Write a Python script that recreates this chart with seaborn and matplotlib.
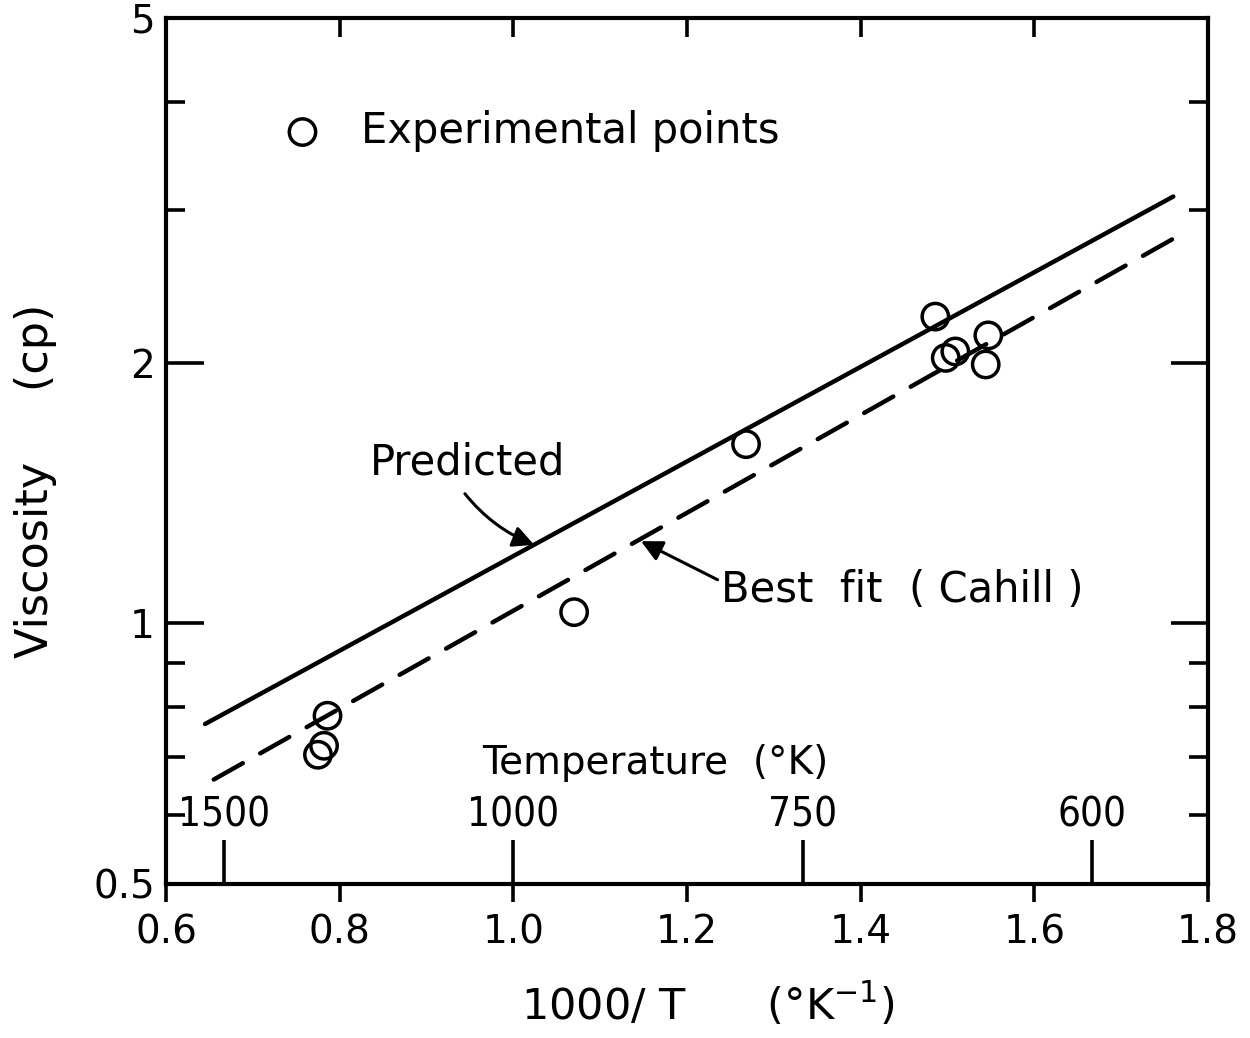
import numpy as np
import matplotlib
matplotlib.use("Agg")
import matplotlib.pyplot as plt
import seaborn as sns
import pandas as pd

# ---------------- data ----------------
exp_x = [1.486, 1.547, 1.498, 1.509, 1.544, 1.268, 1.070, 0.786, 0.782, 0.775]
exp_y = [2.26, 2.15, 2.025, 2.06, 1.99, 1.61, 1.03, 0.782, 0.722, 0.705]

pred_x = [0.645, 1.760]
pred_y = [0.765, 3.11]

fit_x = [0.655, 1.760]
fit_y = [0.660, 2.78]

x_ticks = [0.6, 0.8, 1.0, 1.2, 1.4, 1.6, 1.8]
x_ticklabels = ["0.6", "0.8", "1.0", "1.2", "1.4", "1.6", "1.8"]
y_major = [0.5, 1, 2, 5]
y_major_labels = ["0.5", "1", "2", "5"]
y_minor = [0.6, 0.7, 0.8, 0.9, 3, 4]
temp_ticks = [1500, 1000, 750, 600]
temp_labels = ["1500", "1000", "750", "600"]

df_exp = pd.DataFrame({"x": exp_x, "y": exp_y})
df_pred = pd.DataFrame({"x": pred_x, "y": pred_y})
df_fit = pd.DataFrame({"x": fit_x, "y": fit_y})

# ---------------- style ----------------
sns.set_theme(style="ticks")
plt.rcParams["font.family"] = ["DejaVu Sans"]
plt.rcParams["mathtext.fontset"] = "dejavusans"
for k in ["text.color", "axes.labelcolor", "xtick.color", "ytick.color",
          "axes.edgecolor"]:
    plt.rcParams[k] = "black"

fig = plt.figure(figsize=(12.5, 10.38), dpi=100)
ax = fig.add_axes([0.1328, 0.1484, 0.8336, 0.8343])

sns.lineplot(data=df_pred, x="x", y="y", ax=ax, color="black", lw=3.2,
             estimator=None, solid_capstyle="round")
sns.lineplot(data=df_fit, x="x", y="y", ax=ax, color="black", lw=3.2,
             estimator=None, linestyle=(0, (7.5, 4.5)), dash_capstyle="round")
sns.scatterplot(data=df_exp, x="x", y="y", ax=ax, s=360, facecolors="none",
                edgecolor="black", linewidth=2.5, zorder=5,
                label="Experimental points")

ax.set_yscale("log")
ax.set_xlim(0.6, 1.8)
ax.set_ylim(0.5, 5)

ax.set_xticks(x_ticks)
ax.set_xticklabels(x_ticklabels)
ax.set_yticks(y_major)
ax.set_yticklabels(y_major_labels)
ax.set_yticks(y_minor, minor=True)
ax.yaxis.set_minor_formatter(matplotlib.ticker.NullFormatter())
ax.xaxis.set_minor_locator(matplotlib.ticker.NullLocator())

ax.tick_params(axis="x", which="major", direction="out", length=13, width=2.6,
               labelsize=28, pad=8, top=False, bottom=True)
ax.tick_params(axis="y", which="major", direction="in", length=27, width=2.6,
               labelsize=28, pad=8, left=True, right=True)
ax.tick_params(axis="y", which="minor", direction="in", length=14, width=2.6,
               left=True, right=True)

# top ticks pointing inward
top = ax.secondary_xaxis("top")
top.set_xticks(x_ticks[1:-1])
top.tick_params(axis="x", direction="in", length=14, width=2.6,
                labeltop=False)
top.spines["top"].set_visible(False)

# temperature scale inside the bottom of the plot
def inv(v):
    v = np.asarray(v, dtype=float)
    with np.errstate(divide="ignore", invalid="ignore"):
        return 1000.0 / v

temp = ax.secondary_xaxis(0.0, functions=(inv, inv))
temp.set_xticks(temp_ticks)
temp.set_xticklabels(temp_labels)
temp.xaxis.set_minor_locator(matplotlib.ticker.NullLocator())
temp.tick_params(axis="x", which="both", top=True, labeltop=True, bottom=False,
                 labelbottom=False, direction="out", length=32, width=2.6,
                 pad=3, labelsize=29)
for lab in temp.get_xticklabels():
    lab.set_fontstretch("condensed")
for s in temp.spines.values():
    s.set_visible(False)

ax.text(0.4697, 0.1397, "Temperature  (°K)", transform=ax.transAxes,
        ha="center", va="center", fontsize=28)

# labels
ax.set_xlabel("1000/ T      (°K$^{-1}$)", fontsize=31)
ax.xaxis.set_label_coords(0.52, -0.112)
ax.set_ylabel("Viscosity     (cp)", fontsize=32)
ax.yaxis.set_label_coords(-0.105, 0.465)

# legend
ax.legend(frameon=False, loc="center left", bbox_to_anchor=(0.077, 0.8695),
          borderaxespad=0, fontsize=30, handlelength=1.9, handletextpad=0.45,
          scatterpoints=1)

# annotations
ax.annotate("Predicted", xy=(1.024, 1.232), xytext=(0.947, 1.532),
            ha="center", va="center", fontsize=30,
            arrowprops=dict(arrowstyle="-|>", color="black", lw=2.2,
                            mutation_scale=32, relpos=(0.45, 0.0),
                            shrinkA=6, shrinkB=0,
                            connectionstyle="arc3,rad=0.15"))
ax.annotate("Best  fit  ( Cahill )", xy=(1.147, 1.244), xytext=(1.239, 1.093),
            ha="left", va="center", fontsize=30,
            arrowprops=dict(arrowstyle="-|>", color="black", lw=2.2,
                            mutation_scale=32, relpos=(0.0, 0.7),
                            shrinkA=0, shrinkB=0,
                            connectionstyle="arc3,rad=0.0"))

for s in ax.spines.values():
    s.set_linewidth(3.0)
    s.set_visible(True)

fig.savefig("out.png", dpi=100)
